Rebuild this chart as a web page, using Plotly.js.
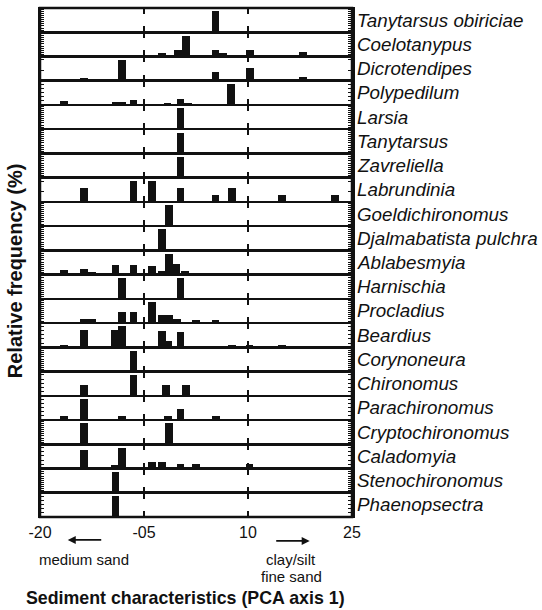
<!DOCTYPE html>
<html>
<head>
<meta charset="utf-8">
<script src="https://cdn.plot.ly/plotly-3.0.1.min.js"></script>
<style>html,body{margin:0;padding:0;background:#fff;}#chart{width:542px;height:610px;}</style>
</head>
<body>
<div id="chart"></div>
<script>
// ---- Data (PCA axis 1 score bins, relative frequency scaled to panel max) ----
const species = ["Tanytarsus obiriciae","Coelotanypus","Dicrotendipes","Polypedilum","Larsia","Tanytarsus","Zavreliella","Labrundinia","Goeldichironomus","Djalmabatista pulchra","Ablabesmyia","Harnischia","Procladius","Beardius","Corynoneura","Chironomus","Parachironomus","Cryptochironomus","Caladomyia","Stenochironomus","Phaenopsectra"];

const tanytarsusObiriciaeX = [5.3];
const tanytarsusObiriciaeY = [100];
const coelotanypusX = [-2.35, -0.15, 1.05, 5.3, 6.4, 10.25, 17.9];
const coelotanypusY = [19, 32, 100, 32, 19, 32, 21];
const dicrotendipesX = [-13.7, -8.15, 1.05, 5.3, 10.25, 17.9];
const dicrotendipesY = [11, 100, 8, 40, 62, 16];
const polypedilumX = [-16.5, -13.7, -10.05, -9.1, -8.15, -6.5, -4.2, -3.0, -1.6, 0.25, 1.4, 2.55, 5.3, 7.6, 10.1, 17.9, 22.5];
const polypedilumY = [17, 6, 6, 13, 16, 22, 6, 6, 9, 27, 9, 5, 5, 100, 5, 5, 6];
const larsiaX = [0.25];
const larsiaY = [100];
const tanytarsusX = [0.25];
const tanytarsusY = [100];
const zavreliellaX = [0.25];
const zavreliellaY = [100];
const labrundiniaX = [-13.7, -6.5, -3.85, 0.25, 5.3, 7.7, 14.9, 22.6];
const labrundiniaY = [65, 100, 100, 65, 33, 65, 33, 33];
const goeldichironomusX = [-1.45];
const goeldichironomusY = [100];
const djalmabatistaX = [-2.35];
const djalmabatistaY = [100];
const ablabesmyiaX = [-16.5, -13.7, -12.45, -9.1, -6.5, -3.85, -2.45, -1.45, -0.3, 0.9, 5.3, 6.4, 7.6, 10.2];
const ablabesmyiaY = [21, 25, 14, 48, 48, 41, 17, 100, 52, 18, 4, 4, 10, 4];
const harnischiaX = [-8.15, 0.25];
const harnischiaY = [100, 100];
const procladiusX = [-13.7, -12.45, -8.15, -6.5, -3.85, -2.4, -1.35, -0.2, 2.5, 5.3];
const procladiusY = [20, 20, 52, 52, 100, 38, 38, 20, 16, 16];
const beardiusX = [-16.5, -13.7, -9.2, -8.15, -2.35, -1.5, 0.25, 7.7, 10.2, 14.9];
const beardiusY = [13, 83, 83, 100, 80, 32, 72, 13, 13, 13];
const corynoneuraX = [-6.5];
const corynoneuraY = [100];
const chironomusX = [-13.7, -6.5, -1.8, 1.05];
const chironomusY = [52, 100, 52, 52];
const parachironomusX = [-16.5, -13.7, -8.15, -1.5, 0.25, 5.4];
const parachironomusY = [20, 100, 20, 20, 55, 20];
const cryptochironomusX = [-13.7, -1.45];
const cryptochironomusY = [100, 100];
const caladomyiaX = [-13.7, -9.2, -8.15, -3.85, -2.35, 0.25, 2.5, 10.2];
const caladomyiaY = [89, 16, 100, 32, 32, 21, 21, 21];
const stenochironomusX = [-9.1];
const stenochironomusY = [100];
const phaenopsectraX = [-9.1];
const phaenopsectraY = [100];

const xTickVals = [-20, -5, 10, 25];
const xTickText = ["-20", "-05", "10", "25"];

const seriesX = [tanytarsusObiriciaeX, coelotanypusX, dicrotendipesX, polypedilumX, larsiaX, tanytarsusX, zavreliellaX, labrundiniaX, goeldichironomusX, djalmabatistaX, ablabesmyiaX, harnischiaX, procladiusX, beardiusX, corynoneuraX, chironomusX, parachironomusX, cryptochironomusX, caladomyiaX, stenochironomusX, phaenopsectraX];
const seriesY = [tanytarsusObiriciaeY, coelotanypusY, dicrotendipesY, polypedilumY, larsiaY, tanytarsusY, zavreliellaY, labrundiniaY, goeldichironomusY, djalmabatistaY, ablabesmyiaY, harnischiaY, procladiusY, beardiusY, corynoneuraY, chironomusY, parachironomusY, cryptochironomusY, caladomyiaY, stenochironomusY, phaenopsectraY];

// style: y tick spacing per panel (ruler ticks)
const yTickStep = [10,10,50,20,10,10,10,50,10,10,10,10,10,20,10,20,20,10,20,10,20];

const N = species.length;
const FONT = "Liberation Sans, Arial, sans-serif";
const traces = [];
const layout = {
  width: 542, height: 610,
  margin: {l: 40, r: 190, t: 8, b: 93},
  paper_bgcolor: "#fff", plot_bgcolor: "#fff",
  showlegend: false,
  bargap: 0,
  font: {family: FONT, color: "#111"},
  annotations: [],
  shapes: [{type: "rect", xref: "paper", yref: "paper", x0: 0, x1: 1, y0: 0, y1: 1,
            line: {color: "#111", width: 2.5}, fillcolor: "rgba(0,0,0,0)", layer: "above"}]
};

for (let i = 0; i < N; i++) {
  const xs = i === 0 ? "" : String(i + 1);
  traces.push({
    type: "bar",
    x: seriesX[i], y: seriesY[i],
    width: 1.12,
    marker: {color: "#111", line: {width: 0}},
    xaxis: "x" + xs, yaxis: "y" + xs,
    hoverinfo: "skip"
  });
  const top = 1 - i / N, bot = 1 - (i + 1) / N;
  layout["xaxis" + xs] = {
    anchor: "y" + xs,
    domain: [0, 1],
    range: [-20, 25],
    tickvals: xTickVals, ticktext: xTickText,
    showticklabels: i === N - 1,
    ticks: "inside", ticklen: 6, tickwidth: 2, tickcolor: "#111",
    showline: true, linewidth: 1.3, linecolor: "#111", mirror: "ticks",
    showgrid: false, zeroline: false,
    tickfont: {size: 16, family: FONT, color: "#111"}
  };
  layout["yaxis" + xs] = {
    anchor: "x" + xs,
    domain: [bot, top],
    range: [0, 116],
    dtick: yTickStep[i], tick0: 0,
    showticklabels: false,
    ticks: "inside", ticklen: 4, tickwidth: 1, tickcolor: "#111",
    showline: true, linewidth: 2.5, linecolor: "#111", mirror: "ticks",
    showgrid: false, zeroline: false
  };
  layout.annotations.push({
    xref: "paper", yref: "paper", x: 1, xshift: 3, y: (top + bot) / 2,
    xanchor: "left", yanchor: "middle", showarrow: false,
    text: "<i>" + species[i] + "</i>",
    font: {size: 18.8, family: FONT, color: "#111"}
  });
}

const lastX = "x" + N;
layout.annotations.push(
  {xref: lastX, yref: "paper", x: -16.0, y: -0.045, ax: 35, ay: 0, showarrow: true,
   arrowhead: 2, arrowsize: 1, arrowwidth: 1.6, arrowcolor: "#111", text: ""},
  {xref: lastX, yref: "paper", x: 18.9, y: -0.047, ax: -35, ay: 0, showarrow: true,
   arrowhead: 2, arrowsize: 1, arrowwidth: 1.6, arrowcolor: "#111", text: ""},
  {xref: lastX, yref: "paper", x: -13.7, y: -0.084, yanchor: "middle", showarrow: false,
   text: "medium sand", font: {size: 15, family: FONT, color: "#111"}},
  {xref: lastX, yref: "paper", x: 16.2, y: -0.083, yanchor: "middle", showarrow: false,
   text: "clay/silt", font: {size: 15, family: FONT, color: "#111"}},
  {xref: lastX, yref: "paper", x: 16.3, y: -0.117, yanchor: "middle", showarrow: false,
   text: "fine sand", font: {size: 15, family: FONT, color: "#111"}},
  {xref: "paper", yref: "paper", x: -0.05, y: -0.159, xanchor: "left", yanchor: "middle", showarrow: false,
   text: "<b>Sediment characteristics (PCA axis 1)</b>", font: {size: 17.8, family: FONT, color: "#111"}},
  {xref: "paper", yref: "paper", x: -0.08, y: 0.483, xanchor: "center", yanchor: "middle", showarrow: false,
   textangle: -90, text: "<b>Relative frequency (%)</b>", font: {size: 20, family: FONT, color: "#111"}}
);

Plotly.newPlot("chart", traces, layout, {displayModeBar: false, staticPlot: true});
</script>
</body>
</html>
